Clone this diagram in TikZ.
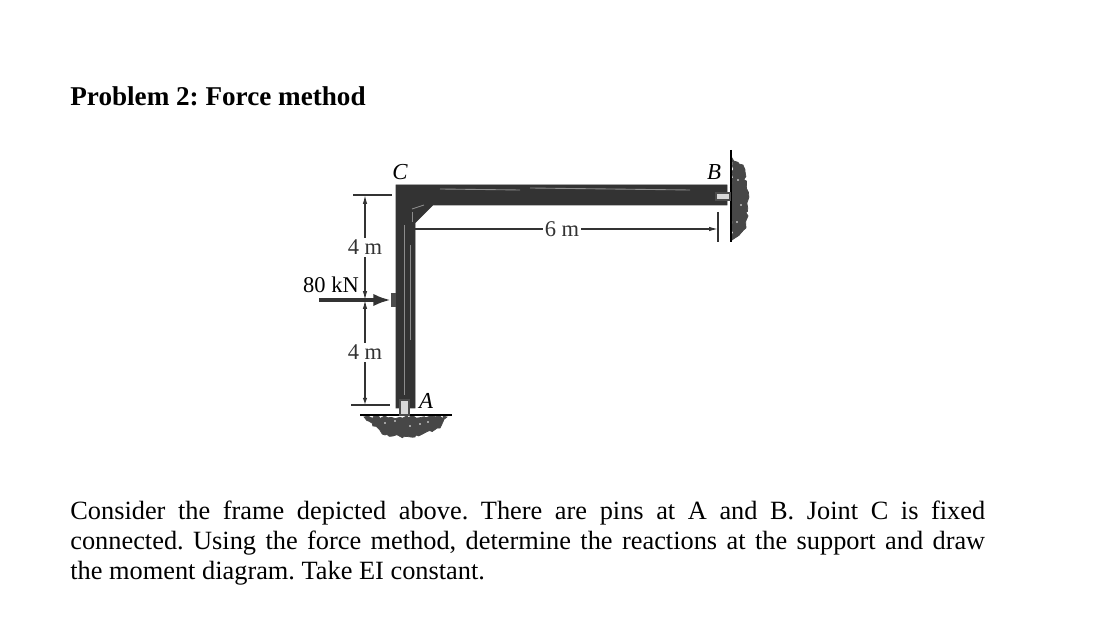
\documentclass[tikz,border=0pt]{standalone}
\usepackage{fontspec}
\setmainfont{Liberation Serif}
\usetikzlibrary{arrows.meta,positioning,decorations.pathmorphing}
\frenchspacing

\tikzset{
    member/.style={fill=black!80,draw=black!80,line width=0.3pt},
    streak/.style={black!45,line width=0.5pt},
    dimline/.style={black!80,line width=0.7pt},
    dimlabel/.style={font=\fontsize{12.8}{14}\selectfont,fill=white,inner sep=1pt},
    jointlabel/.style={font=\fontsize{13}{14}\selectfont\itshape,inner sep=0pt},
    rough/.style={fill=black!72,draw=black!72,decorate,decoration={random steps,segment length=2pt,amplitude=1pt}},
    pinbox/.style={draw=black!70,fill=black!15,line width=0.6pt}
}

\begin{document}
\begin{tikzpicture}[x=0.02cm,y=-0.02cm]
    \useasboundingbox (0,0) rectangle (1100,624);

    % Heading and text
    \node[anchor=base west,inner sep=0pt,font=\fontsize{15.45}{18}\selectfont\bfseries] (title) at (70,106) {Problem 2: Force method};
    \node[anchor=north west,inner sep=0pt,text width=18.3cm,align=justify,font=\fontsize{15}{17}\selectfont] (body) at (70,501)
        {Consider the frame depicted above. There are pins at A and B. Joint C is fixed\linebreak
        connected. Using the force method, determine the reactions at the support and draw\linebreak
        the moment diagram. Take EI constant.};

    % Supports
    \draw[rough] (364,417) -- (447,417) -- (440,428) -- (415,437) -- (385,435) -- cycle;
    \draw[black,line width=0.8pt] (360,415) -- (452,415);
    \draw[rough] (732,158) -- (743,165) -- (748,200) -- (746,228) -- (732,240) -- cycle;
    \draw[black,line width=0.8pt] (731,150) -- (731,242);
    \foreach \x/\y in {385/423,395/421,410/426,420/424,428/422,738/180,741/205,737/222}
        \fill[white] (\x,\y) circle (0.9);

    % Frame
    \fill[member] (396,185) -- (727,185) -- (727,205) -- (433,205) -- (415,223) -- (415,408) -- (396,408) -- cycle;
    \draw[streak] (440,189) -- (520,190);
    \draw[streak] (530,188) -- (690,190);
    \draw[streak] (404,225) -- (404,395);
    \draw[streak] (410,245) -- (410,340);
    \draw[streak] (412,209) -- (424,205);
    \draw[streak] (412,212) -- (412,222);

    % Pins
    \draw[pinbox] (400,400) rectangle (409,415);
    \draw[pinbox] (716,193) rectangle (730,200);
    \fill[black!70] (391,293) rectangle (396,307);

    % Joint labels
    \node[jointlabel] (C) at (400,172) {C};
    \node[jointlabel] (B) at (714,172) {B};
    \node[jointlabel] (A) at (426,401) {A};

    % Dimensions 4 m + 4 m
    \coordinate (top) at (365,195);
    \coordinate (mid) at (365,300);
    \coordinate (bot) at (365,405);
    \draw[dimline] (353,195) -- (392,195);
    \draw[dimline] (351,405) -- (390,405);
    \draw[dimline,{Latex[length=5pt,width=2.5pt]}-{Latex[length=5pt,width=2.5pt]}] (top) -- (mid) node[pos=0.5,dimlabel] (upper) {4 m};
    \draw[dimline,{Latex[length=5pt,width=2.5pt]}-{Latex[length=4pt,width=2.5pt]}] (mid) -- (bot) node[pos=0.5,dimlabel] (lower) {4 m};

    % Load
    \node[font=\fontsize{12.8}{14}\selectfont,inner sep=0pt] (load) at (331,285) {80 kN};
    \coordinate (loadtail) at (319,300);
    \coordinate (loadtip) at (391,300);
    \draw[black!80,line width=2pt,-{Latex[length=10pt,width=7pt]}] (loadtail) -- (loadtip);

    % Dimension 6 m
    \coordinate (left) at (415,229);
    \coordinate (right) at (718,229);
    \draw[dimline] (718,212) -- (718,242);
    \draw[dimline,-{Latex[length=5pt,width=2.5pt]}] (left) -- (right) node[pos=0.485,dimlabel] (span) {6 m};
\end{tikzpicture}
\end{document}
